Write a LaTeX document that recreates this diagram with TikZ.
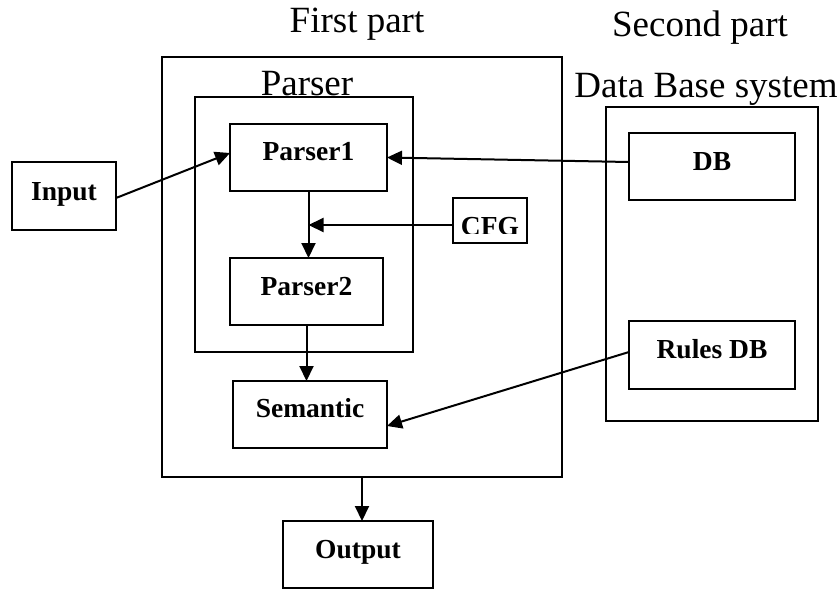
\documentclass[tikz,border=0pt]{standalone}
\usepackage{fontspec}
\setmainfont{Liberation Serif}
\usetikzlibrary{arrows.meta,calc}
\tikzset{
  box/.style={draw, line width=2pt, rectangle, inner sep=0pt, outer sep=0pt},
  lbl/.style={anchor=base, inner sep=0pt, font=\fontsize{27.5}{33}\selectfont\bfseries},
  ttl/.style={anchor=base, inner sep=0pt, font=\fontsize{37}{44}\selectfont},
  arr/.style={line width=2pt, -{Triangle[length=15pt,width=14pt]}},
}
\begin{document}
\begin{tikzpicture}[x=1pt,y=-1pt]
\useasboundingbox (0,0) rectangle (839,590);
% containers
\node[box, minimum width=400pt, minimum height=420pt] (outer) at (362,267) {};
\node[box, minimum width=218pt, minimum height=255pt] (inner) at (304,224.5) {};
\node[box, minimum width=212pt, minimum height=314pt] (dbsys) at (712,264) {};
% boxes
\node[box, minimum width=104pt, minimum height=68pt] (inp) at (64,196) {};
\node[box, minimum width=157pt, minimum height=67pt] (p1) at (308.5,157.5) {};
\node[box, minimum width=153pt, minimum height=67pt] (p2) at (306.5,291.5) {};
\node[box, minimum width=74pt, minimum height=45pt] (cfg) at (490,220.5) {};
\node[box, minimum width=166pt, minimum height=67pt] (db) at (712,166.5) {};
\node[box, minimum width=166pt, minimum height=68pt] (rdb) at (712,355) {};
\node[box, minimum width=154pt, minimum height=67pt] (sem) at (310,414.5) {};
\node[box, minimum width=150pt, minimum height=67pt] (out) at (358,554.5) {};
% labels
\node[lbl] (tinp) at ([yshift=-38pt]inp.north) {Input};
\node[lbl] (tp1) at ([yshift=-36pt]p1.north) {Parser1};
\node[lbl] (tp2) at ([yshift=-37pt]p2.north) {Parser2};
\node[lbl] (tdb) at ([yshift=-37pt]db.north) {DB};
\node[lbl] (trdb) at ([yshift=-37pt]rdb.north) {Rules DB};
\node[lbl] (tsem) at ([yshift=-36pt]sem.north) {Semantic};
\node[lbl] (tout) at ([yshift=-37pt]out.north) {Output};
\begin{scope}
\clip (453,198) rectangle (527,233);
\node[lbl] (tcfg) at (490,235) {CFG};
\end{scope}
% titles
\node[ttl] (tfirst) at (357,32) {First part};
\node[ttl] (tsecond) at (700,36) {Second part};
\node[ttl] (tparser) at (307,95) {Parser};
\node[ttl] (tdbsys) at (706,97) {Data Base system};
% connectors
\draw[arr] ([yshift=-2pt]inp.east) -- ([yshift=4.5pt]p1.west);
\draw[arr] ([yshift=4.5pt]db.west) -- (p1.east);
\draw[arr] (p1.south) -- (p1.south |- p2.north);
\draw[arr] ([yshift=-4.5pt]cfg.west) -- ([yshift=-4.5pt]cfg.west -| p1.south);
\draw[arr] (p2.south) -- (p2.south |- sem.north);
\draw[arr] ([yshift=3pt]rdb.west) -- ([yshift=-11.5pt]sem.east);
\draw[arr] (outer.south) -- (outer.south |- out.north);
\end{tikzpicture}
\end{document}
